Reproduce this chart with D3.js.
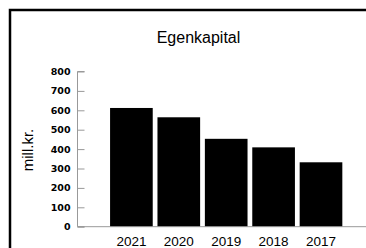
<!DOCTYPE html>
<html><head><meta charset="utf-8">
<script src="https://cdn.jsdelivr.net/npm/d3@7"></script>
<style>html,body{margin:0;padding:0;background:#fff;}svg{display:block;}</style>
</head><body>
<script>
const title = "Egenkapital";
const yLabel = "mill.kr.";
const categories = ["2021", "2020", "2019", "2018", "2017"];
const values = [612, 564, 453, 409, 332];
const yTicks = [0, 100, 200, 300, 400, 500, 600, 700, 800];

const W = 366, H = 248;
const svg = d3.select("body").append("svg").attr("width", W).attr("height", H);

// frame (top and left only visible)
svg.append("path").attr("d", `M10,${H} V10 H${W}`)
  .attr("fill", "none").attr("stroke", "#000").attr("stroke-width", 2.5);

const x = d3.scaleBand().domain(categories).range([107.7, 344.7]).paddingInner(0.1).paddingOuter(0.05);
const y = d3.scaleLinear().domain([0, 800]).range([226.7, 71.5]);

svg.append("text").attr("x", 198.5).attr("y", 43).attr("text-anchor", "middle")
  .attr("font-family", "Liberation Sans, Arial, sans-serif").attr("font-size", 16).text(title);

// bars
svg.selectAll("rect.bar").data(values).join("rect").attr("class", "bar")
  .attr("x", (d, i) => x(categories[i])).attr("width", x.bandwidth())
  .attr("y", d => y(d)).attr("height", d => y(0) - y(d)).attr("fill", "#000");

// x baseline
svg.append("line").attr("x1", 77.5).attr("x2", W).attr("y1", y(0)).attr("y2", y(0))
  .attr("stroke", "#999").attr("stroke-width", 1);

// y axis
const ya = svg.append("g").attr("transform", "translate(77.5,0)")
  .call(d3.axisRight(y).tickValues(yTicks).tickSize(7).tickFormat(d3.format("d")));
ya.select(".domain").attr("stroke", "#999").attr("d", `M7,${y(800)}H0V${y(0)}H7`);
ya.selectAll(".tick line").attr("stroke", "#999");
ya.selectAll(".tick text").attr("x", -7).attr("text-anchor", "end")
  .attr("font-family", "DejaVu Sans, Verdana, sans-serif").attr("font-weight", "bold")
  .attr("font-size", 9.5).attr("fill", "#000");

// x labels
svg.selectAll("text.xl").data(categories).join("text").attr("class", "xl")
  .attr("x", d => x(d) + x.bandwidth() / 2).attr("y", 245.5).attr("text-anchor", "middle")
  .attr("font-family", "Liberation Sans, Arial, sans-serif").attr("font-size", 13.5).text(d => d);

// y title
svg.append("text").attr("transform", "translate(33,150) rotate(-90)").attr("text-anchor", "middle")
  .attr("font-family", "Liberation Sans, Arial, sans-serif").attr("font-size", 15).text(yLabel);
</script>
</body></html>
